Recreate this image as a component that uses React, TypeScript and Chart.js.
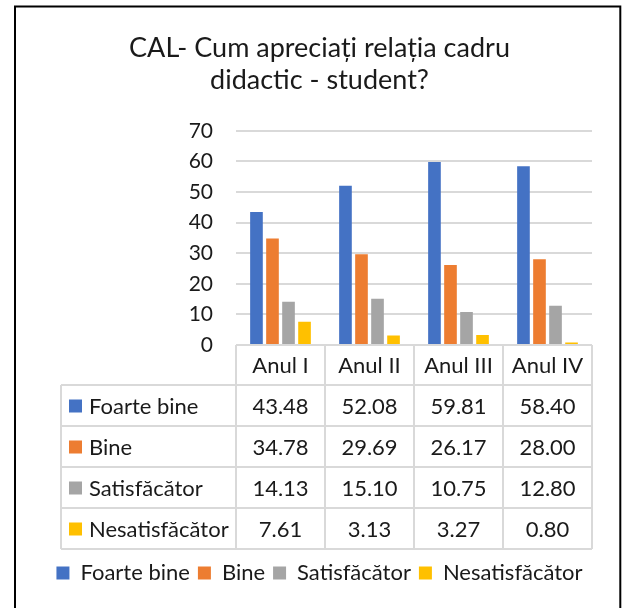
import { useEffect, useRef } from 'react';
import { Chart, registerables } from 'chart.js';

Chart.register(...registerables);

const categories = ['Anul I', 'Anul II', 'Anul III', 'Anul IV'];
const seriesNames = ['Foarte bine', 'Bine', 'Satisfăcător', 'Nesatisfăcător'];
const foarteBine = [43.48, 52.08, 59.81, 58.4];
const bine = [34.78, 29.69, 26.17, 28.0];
const satisfacator = [14.13, 15.1, 10.75, 12.8];
const nesatisfacator = [7.61, 3.13, 3.27, 0.8];
const seriesValues = [foarteBine, bine, satisfacator, nesatisfacator];
const seriesColors = ['#4472C4', '#ED7D31', '#A5A5A5', '#FFC000'];
const titleLines = ['CAL- Cum apreciați relația cadru', 'didactic - student?'];
const yMin = 0;
const yMax = 70;
const yStep = 10;

const FONT = 'Lato, "Open Sans", sans-serif';
const TEXT = '#1a1a1a';
const LINE = '#d9d9d9';

const tablePlugin = {
  id: 'dataTable',
  afterDraw(chart: any) {
    const { ctx, chartArea } = chart;
    const x = chart.scales.x;
    const colW = x.getPixelForValue(1) - x.getPixelForValue(0);
    const left = chartArea.left;
    const right = chartArea.right;
    const top = chartArea.bottom;
    const headerH = 40;
    const rowH = 41;
    const labelW = 175;
    const tLeft = left - labelW;
    const bottom = top + headerH + rowH * seriesNames.length;
    ctx.save();
    ctx.strokeStyle = LINE;
    ctx.lineWidth = 2;
    ctx.beginPath();
    ctx.moveTo(left, top);
    ctx.lineTo(right, top);
    for (let r = 0; r <= seriesNames.length; r++) {
      const y = top + headerH + r * rowH;
      ctx.moveTo(tLeft, y);
      ctx.lineTo(right, y);
    }
    for (let k = 0; k <= categories.length; k++) {
      const xx = left + k * colW;
      ctx.moveTo(xx, top);
      ctx.lineTo(xx, bottom);
    }
    ctx.moveTo(tLeft, top + headerH);
    ctx.lineTo(tLeft, bottom);
    ctx.stroke();

    ctx.fillStyle = TEXT;
    ctx.font = `22px ${FONT}`;
    ctx.textAlign = 'center';
    ctx.textBaseline = 'middle';
    categories.forEach((c, i) => {
      ctx.fillText(c, x.getPixelForValue(i), top + headerH / 2 + 1);
    });
    seriesNames.forEach((name, r) => {
      const cy = top + headerH + r * rowH + rowH / 2 + 1;
      ctx.fillStyle = seriesColors[r];
      ctx.fillRect(tLeft + 8, cy - 7, 13, 13);
      ctx.fillStyle = TEXT;
      ctx.textAlign = 'left';
      ctx.fillText(name, tLeft + 28, cy);
      ctx.textAlign = 'center';
      seriesValues[r].forEach((v, i) => {
        ctx.fillText(v.toFixed(2), x.getPixelForValue(i), cy);
      });
    });
    ctx.restore();
  },
};

const framePlugin = {
  id: 'frame',
  beforeDraw(chart: any) {
    const { ctx, width, height } = chart;
    ctx.save();
    ctx.fillStyle = '#ffffff';
    ctx.fillRect(0, 0, width, height);
    ctx.restore();
  },
  afterDraw(chart: any) {
    const { ctx } = chart;
    ctx.save();
    ctx.strokeStyle = '#000000';
    ctx.lineWidth = 2;
    ctx.strokeRect(15, 6.5, 605.3, 1000);
    ctx.restore();
  },
};

export default function App() {
  const canvasRef = useRef<HTMLCanvasElement | null>(null);

  useEffect(() => {
    if (!canvasRef.current) return;
    const chart = new Chart(canvasRef.current, {
      type: 'bar',
      data: {
        labels: categories,
        datasets: seriesNames.map((name, i) => ({
          label: name,
          data: seriesValues[i],
          backgroundColor: seriesColors[i],
          borderWidth: 0,
          categoryPercentage: 0.72,
          barPercentage: 0.79,
        })),
      },
      plugins: [framePlugin, tablePlugin],
      options: {
        responsive: false,
        animation: false,
        devicePixelRatio: 1,
        layout: { padding: { top: 22, left: 17, right: 0, bottom: 14 } },
        plugins: {
          tooltip: { enabled: false },
          title: {
            display: true,
            text: titleLines,
            color: TEXT,
            font: { family: FONT, size: 27, weight: 'normal', lineHeight: 1.2 },
            padding: { top: 10, bottom: 34 },
          },
          legend: {
            display: true,
            position: 'bottom',
            labels: {
              boxWidth: 13,
              boxHeight: 13,
              padding: 8,
              color: TEXT,
              font: { family: FONT, size: 22 },
            },
          },
        },
        scales: {
          x: {
            display: true,
            grid: { display: false },
            border: { display: false },
            ticks: { display: false },
            afterFit(axis: any) {
              axis.height = 209;
            },
          },
          y: {
            min: yMin,
            max: yMax,
            ticks: {
              stepSize: yStep,
              autoSkip: false,
              color: TEXT,
              padding: 23,
              font: { family: FONT, size: 21 },
            },
            grid: { color: LINE, lineWidth: 2, drawTicks: false },
            border: { display: false },
            afterFit(axis: any) {
              axis.width = 219;
            },
          },
          yRightMargin: {
            type: 'linear',
            position: 'right',
            display: true,
            grid: { display: false },
            border: { display: false },
            ticks: { display: false },
            afterFit(axis: any) {
              axis.width = 30;
            },
          },
        },
      },
    });
    return () => chart.destroy();
  }, []);

  return (
    <div style={{ position: 'absolute', left: 0, top: 0, width: 622, height: 608 }}>
      <canvas ref={canvasRef} width={622} height={608} style={{ display: 'block' }} />
    </div>
  );
}
